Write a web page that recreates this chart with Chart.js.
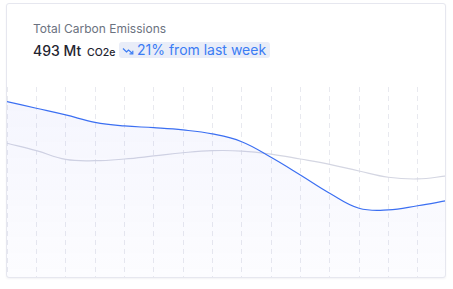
<!DOCTYPE html>
<html>
<head>
<meta charset="utf-8">
<script src="https://cdn.jsdelivr.net/npm/chart.js@4"></script>
<style>
  html, body { margin: 0; padding: 0; background: #fff; font-family: Inter, "Noto Sans", sans-serif; }
  .card {
    position: absolute; left: 6px; top: 3px; width: 438px; height: 273px;
    border: 1px solid #e6e7ef; border-radius: 3px; background: #fff;
    box-shadow: 0 1px 2px rgba(30, 40, 80, 0.06); overflow: hidden;
  }
  .title { position: absolute; left: 26px; top: 17px; font-size: 12px; color: #6b7280; }
  .value { position: absolute; left: 26px; top: 38px; font-size: 14px; font-weight: 500; color: #1f2430; white-space: nowrap; }
  .value small { font-size: 10.5px; font-weight: 500; margin-left: 2px; }
  .badge {
    position: absolute; left: 112px; top: 38px; height: 16px; padding: 0 4px 0 3px;
    background: #e9edf8; border-radius: 3px; color: #3b7cf4; font-size: 14px; line-height: 16px; white-space: nowrap;
  }
  .badge svg { position: relative; top: 0px; margin-right: 3px; }
  .chart { position: absolute; left: 0; top: 83px; width: 440px; height: 190px; }
</style>
</head>
<body>
<div class="card">
  <div class="title">Total Carbon Emissions</div>
  <div class="value">493 Mt <small>CO2e</small></div>
  <div class="badge"><svg width="12" height="8" viewBox="0 0 12 8"><polyline points="1,1.5 4.5,5 6.5,3 10.5,6.5" fill="none" stroke="#3b7cf4" stroke-width="1.2"/><polyline points="7.5,6.8 10.8,6.8 10.8,3.8" fill="none" stroke="#3b7cf4" stroke-width="1.2"/></svg>21% from last week</div>
  <div class="chart"><canvas id="emissions"></canvas></div>
</div>
<script>
const labels = ["Day 1", "Day 2", "Day 3", "Day 4", "Day 5", "Day 6", "Day 7", "Day 8",
  "Day 9", "Day 10", "Day 11", "Day 12", "Day 13", "Day 14", "Day 15", "Day 16"];
const thisWeek = [92.3, 88.8, 85.3, 81.4, 79.5, 78.6, 77.4, 75.3, 71.2, 63.0, 53.7, 44.1, 36.2, 35.3, 37.5, 40.2];
const lastWeek = [70.4, 66.5, 61.9, 61.2, 62.1, 63.7, 65.4, 66.5, 66.3, 64.7, 62.1, 59.3, 55.8, 52.5, 51.6, 53.2];

function areaFill(ctx) {
  const area = ctx.chart.chartArea;
  if (!area) return "rgba(99,110,240,0.05)";
  const g = ctx.chart.ctx.createLinearGradient(0, area.top, 0, area.bottom);
  g.addColorStop(0, "rgba(99,110,240,0.065)");
  g.addColorStop(1, "rgba(99,110,240,0.02)");
  return g;
}

new Chart("emissions", {
  type: "line",
  data: {
    labels: labels,
    datasets: [
      {
        label: "This week",
        data: thisWeek,
        borderColor: "#3b6ff2",
        borderWidth: 1.2,
        backgroundColor: areaFill,
        fill: "start",
        pointRadius: 0,
        tension: 0.4
      },
      {
        label: "Last week",
        data: lastWeek,
        borderColor: "#d4d6e2",
        borderWidth: 1.2,
        fill: false,
        pointRadius: 0,
        tension: 0.4
      }
    ]
  },
  options: {
    responsive: true,
    maintainAspectRatio: false,
    animation: false,
    layout: { padding: 0 },
    plugins: { legend: { display: false }, tooltip: { enabled: false } },
    scales: {
      x: {
        offset: false,
        ticks: { display: false },
        border: { display: false, dash: [5, 4] },
        grid: { color: "#e8e9ef", lineWidth: 1, drawTicks: false, tickLength: 0 }
      },
      y: { display: false, min: 0, max: 100 }
    }
  }
});
</script>
</body>
</html>
